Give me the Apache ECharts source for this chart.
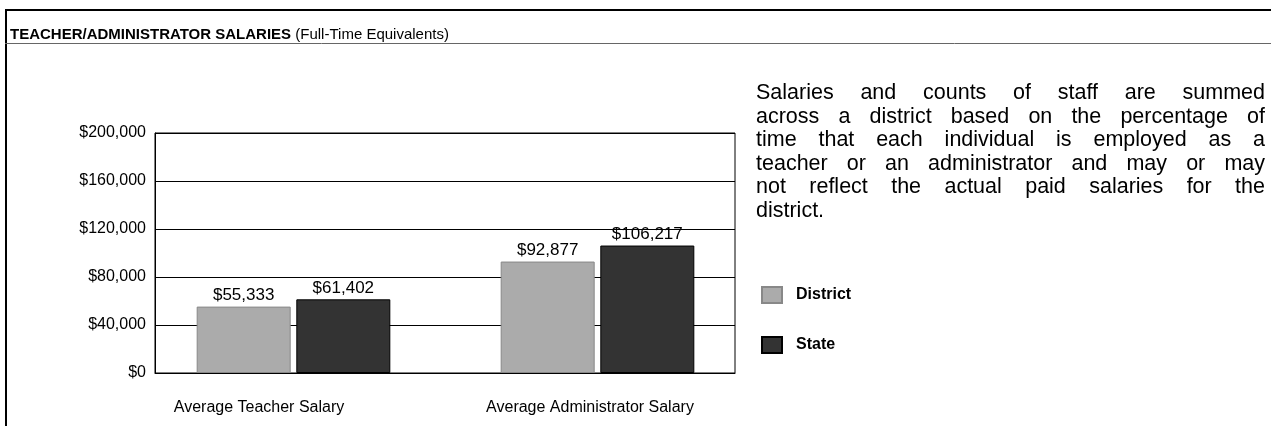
<!DOCTYPE html>
<html>
<head>
<meta charset="utf-8">
<script src="https://cdn.jsdelivr.net/npm/echarts@6/dist/echarts.min.js"></script>
<style>
html,body{margin:0;padding:0;background:#fff;}
#chart{width:1271px;height:426px;}
</style>
</head>
<body>
<div id="chart"></div>
<script>
// ---- data ----
var categories = ['Average Teacher Salary', 'Average Administrator Salary'];
var seriesNames = ['District', 'State'];
var districtValues = [55333, 92877];
var stateValues = [61402, 106217];
var yTicks = [0, 40000, 80000, 120000, 160000, 200000];
var titleBold = 'TEACHER/ADMINISTRATOR SALARIES';
var titleRest = ' (Full-Time Equivalents)';
var noteLines = [
  'Salaries and counts of staff are summed',
  'across a district based on the percentage of',
  'time that each individual is employed as a',
  'teacher or an administrator and may or may',
  'not reflect the actual paid salaries for the',
  'district.'
];

function money(v){ return '$' + Math.round(v).toString().replace(/\B(?=(\d{3})+(?!\d))/g, ','); }

var FONT = '"Liberation Sans", Arial, Helvetica, sans-serif';

// justified paragraph built from the note lines
var noteLeft = 756, noteRight = 1265, noteTop = 94, noteLH = 23.5, noteSize = 21.5;
var cv = document.createElement('canvas').getContext('2d');
cv.font = noteSize + 'px ' + FONT;
var graphics = [];
noteLines.forEach(function(line, i){
  var y = noteTop + i * noteLH;
  var words = line.split(' ');
  var last = (i === noteLines.length - 1);
  if (last || words.length < 2) {
    graphics.push({type:'text', left: noteLeft, top: y - noteSize/2 - 1, style:{text: line, font: noteSize + 'px ' + FONT, fill:'#000'}});
    return;
  }
  var widths = words.map(function(w){ return cv.measureText(w).width; });
  var total = widths.reduce(function(a,b){return a+b;}, 0);
  var gap = (noteRight - noteLeft - total) / (words.length - 1);
  var x = noteLeft;
  words.forEach(function(w, k){
    graphics.push({type:'text', left: x, top: y - noteSize/2 - 1, style:{text: w, font: noteSize + 'px ' + FONT, fill:'#000'}});
    x += widths[k] + gap;
  });
});

// frame lines and title
graphics.push({type:'line', shape:{x1:5, y1:10, x2:1271, y2:10}, style:{stroke:'#000', lineWidth:2}});
graphics.push({type:'line', shape:{x1:6, y1:10, x2:6, y2:426}, style:{stroke:'#000', lineWidth:2}});
graphics.push({type:'line', shape:{x1:5, y1:43.5, x2:1271, y2:43.5}, style:{stroke:'#666', lineWidth:1}});
graphics.push({type:'text', left:10, top:27, style:{
  text:'{b|' + titleBold + '}{r|' + titleRest + '}',
  rich:{
    b:{font:'bold 15px ' + FONT, fill:'#000'},
    r:{font:'15px ' + FONT, fill:'#000'}
  }
}});

var chart = echarts.init(document.getElementById('chart'));
chart.setOption({
  animation:false,
  backgroundColor:'#fff',
  graphic: graphics,
  legend:{
    data: seriesNames,
    orient:'vertical',
    left: 756, top: 281,
    itemWidth: 20, itemHeight: 16, itemGap: 32,
    icon:'rect',
    textStyle:{fontFamily: FONT, fontWeight:'bold', fontSize:16, color:'#000', padding:[0,0,0,9]}
  },
  grid:[
    {left:155, right:536, top:133, bottom:53, show:true, borderColor:'#000', borderWidth:1, backgroundColor:'transparent'},
    {left:141.5, right:521.5, top:133, bottom:53}
  ],
  xAxis:[
    {gridIndex:0, type:'category', data:categories,
      axisLine:{show:true, lineStyle:{color:'#000'}}, axisTick:{show:false},
      axisLabel:{interval:0, hideOverlap:false, margin:27, color:'#000', fontFamily:FONT, fontSize:16,
        formatter:function(v, i){ return (i===0 ? '{a|' : '{c|') + v + '}'; },
        rich:{a:{padding:[0,82,0,0], fontFamily:FONT, fontSize:16, color:'#000'}, c:{fontFamily:FONT, fontSize:16, color:'#000'}}
      }},
    {gridIndex:1, type:'category', data:categories, show:false}
  ],
  yAxis:[
    {gridIndex:0, type:'value', min:yTicks[0], max:yTicks[yTicks.length-1], interval:yTicks[1]-yTicks[0],
      axisLine:{show:true, lineStyle:{color:'#000'}}, axisTick:{show:false},
      splitLine:{show:true, lineStyle:{color:'#000', width:1}},
      axisLabel:{margin:9, color:'#000', fontFamily:FONT, fontSize:16, formatter:money}},
    {gridIndex:1, type:'value', min:yTicks[0], max:yTicks[yTicks.length-1], interval:yTicks[1]-yTicks[0], show:false, splitLine:{show:false}}
  ],
  series:[
    {name:seriesNames[0], type:'bar', xAxisIndex:1, yAxisIndex:1, data:districtValues,
      barWidth:94, barGap:'6%',
      itemStyle:{color:'#ababab', borderColor:'#888', borderWidth:1},
      label:{show:true, position:'top', distance:3, color:'#000', fontFamily:FONT, fontSize:17, formatter:function(p){return money(p.value);}}},
    {name:seriesNames[1], type:'bar', xAxisIndex:1, yAxisIndex:1, data:stateValues,
      barWidth:94,
      itemStyle:{color:'#333333', borderColor:'#000', borderWidth:1},
      label:{show:true, position:'top', distance:3, color:'#000', fontFamily:FONT, fontSize:17, formatter:function(p){return money(p.value);}}}
  ]
});
</script>
</body>
</html>
